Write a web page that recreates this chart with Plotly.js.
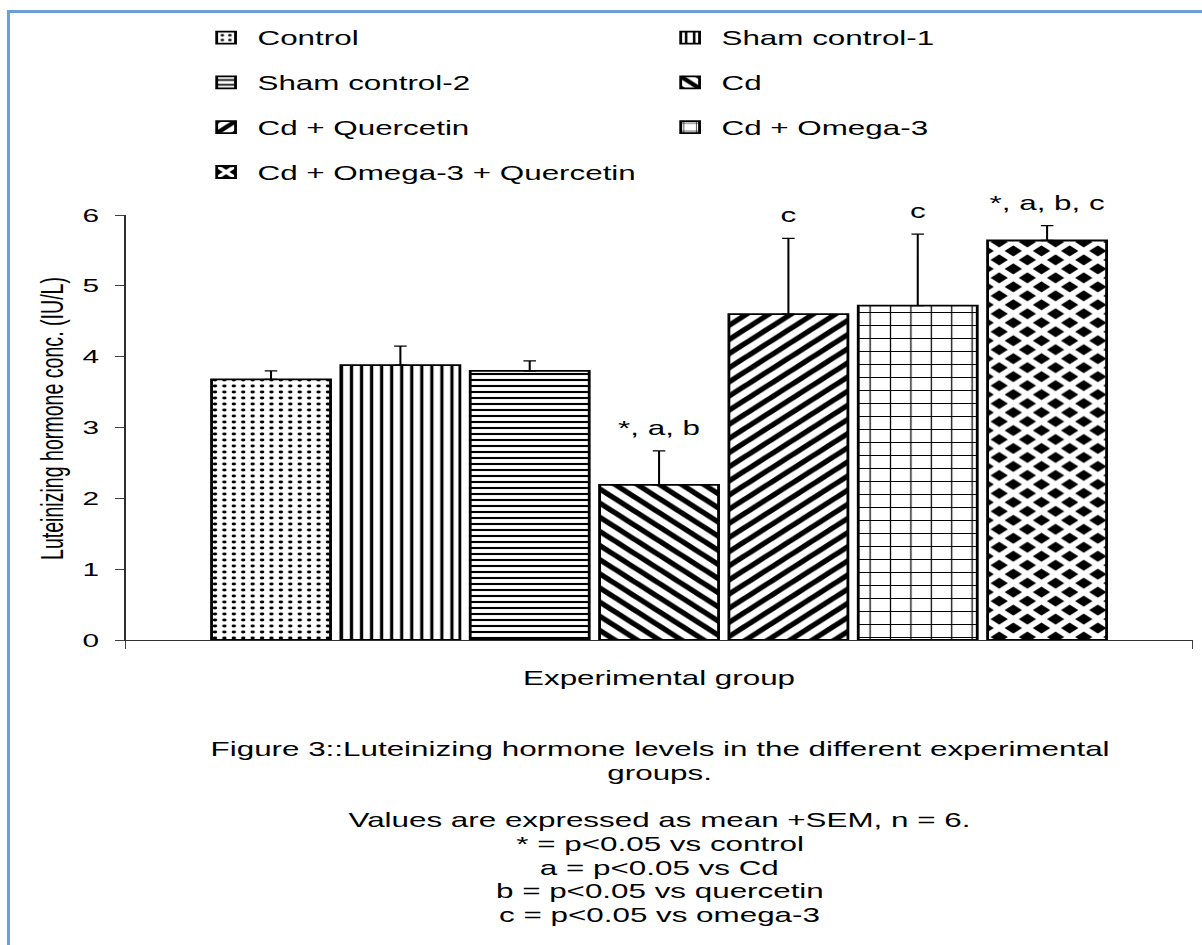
<!DOCTYPE html>
<html>
<head>
<meta charset="utf-8">
<script src="https://cdn.plot.ly/plotly-3.0.1.min.js"></script>
<style>
  html, body { margin: 0; padding: 0; background: #ffffff; overflow: hidden; }
  #wrap { position: absolute; left: 0; top: 0; width: 766px; height: 945px;
          transform: scaleX(1.5692); transform-origin: 0 0; }
  #chart { width: 766px; height: 945px; }
  #frame { position: absolute; left: 7px; top: 10px; width: 1200px; height: 940px;
           border-top: 3px solid #6a9fd8; border-left: 3px solid #6a9fd8;
           pointer-events: none; z-index: 10; }
</style>
</head>
<body>
<div id="wrap"><div id="chart"></div></div>
<div id="frame"></div>
<script>
// ---- data ----
const groups = ["Control", "Sham control-1", "Sham control-2", "Cd",
                "Cd + Quercetin", "Cd + Omega-3", "Cd + Omega-3 + Quercetin"];
const means = [3.68, 3.88, 3.80, 2.19, 4.60, 4.72, 5.64];
const sems  = [0.12, 0.27, 0.14, 0.48, 1.07, 1.01, 0.21];
const sigLabels = ["", "", "", "*, a, b", "c", "c", "*, a, b, c"];
const xCategory = ["Experimental group"];
const yTicks = [0, 1, 2, 3, 4, 5, 6];
const captionLines = [
  "Figure 3::Luteinizing hormone levels in the different experimental",
  "groups.",
  "",
  "Values are expressed as mean +SEM, n = 6.",
  "* = p<0.05 vs control",
  "a = p<0.05 vs Cd",
  "b = p<0.05 vs quercetin",
  "c = p<0.05 vs omega-3"
];
const yTitle = "Luteinizing hormone conc. (IU/L)";

// ---- styles ----
const FONT = "Liberation Sans, Arial, Helvetica, sans-serif";
const patterns = [
  {shape: ".", size: 6, solidity: 0.18, fgcolor: "#000", bgcolor: "#fff"},
  {shape: "|", size: 6.4, solidity: 0.32, fgcolor: "#000", bgcolor: "#fff"},
  {shape: "-", size: 6, solidity: 0.35, fgcolor: "#000", bgcolor: "#fff"},
  {shape: "\\", size: 10, solidity: 0.45, fgcolor: "#000", bgcolor: "#fff"},
  {shape: "/", size: 10, solidity: 0.45, fgcolor: "#000", bgcolor: "#fff"},
  {shape: "+", size: 13, solidity: 0.12, fgcolor: "#000", bgcolor: "#fff"},
  {shape: "x", size: 12.7, solidity: 0.62, fgcolor: "#fff", bgcolor: "#000"}
];
const legendOf = ["legend", "legend2", "legend", "legend2", "legend", "legend2", "legend"];

const traces = [];
groups.forEach((g, i) => {
  traces.push({
    type: "bar",
    name: g,
    x: xCategory,
    y: [means[i]],
    offsetgroup: "g" + i,
    legend: legendOf[i],
    legendgroup: "lg" + i,
    marker: {color: "#fff", pattern: patterns[i], line: {color: "#000", width: 1.8}},
    error_y: {type: "data", symmetric: false, array: [sems[i]], arrayminus: [0],
              color: "#000", thickness: 1.3, width: 4},
    hoverinfo: "skip"
  });
});
groups.forEach((g, i) => {
  traces.push({
    type: "scatter",
    mode: "markers+text",
    x: xCategory,
    y: [means[i] + sems[i]],
    text: [sigLabels[i]],
    textposition: "top center",
    textfont: {family: FONT, size: 20, color: "#000"},
    marker: {size: 16, color: "rgba(0,0,0,0)", line: {width: 0}},
    offsetgroup: "g" + i,
    showlegend: false,
    cliponaxis: false,
    hoverinfo: "skip"
  });
});

const Y0 = 640, PLOT_H = 425, PLOT_L = 80.3, PLOT_W = 680;
const annotations = [];
captionLines.forEach((t, k) => {
  if (!t) return;
  const yc = 749 + k * 23.7;
  annotations.push({
    xref: "paper", yref: "paper", x: 0.5, y: (Y0 - yc) / PLOT_H,
    xanchor: "center", yanchor: "middle", showarrow: false,
    text: t, font: {family: FONT, size: 20, color: "#000"}
  });
});
annotations.push({
  xref: "paper", yref: "paper", x: (32.8 - PLOT_L) / PLOT_W, y: 0.521,
  xanchor: "center", yanchor: "middle", showarrow: false, textangle: -90,
  text: yTitle, font: {family: FONT, size: 19.6, color: "#000"}
});

const legendBase = {
  orientation: "v", xref: "paper", yref: "paper", xanchor: "left", yanchor: "top",
  y: (Y0 - 18.1) / PLOT_H, font: {family: FONT, size: 20, color: "#000"},
  tracegroupgap: 15.8, traceorder: "grouped", bgcolor: "rgba(0,0,0,0)", borderwidth: 0
};

const layout = {
  width: 766, height: 945,
  margin: {l: PLOT_L, r: 5.7, t: 215, b: 305, autoexpand: false},
  paper_bgcolor: "#fff", plot_bgcolor: "#fff",
  font: {family: FONT, size: 20, color: "#000"},
  barmode: "group", bargap: 0.1515, bargroupgap: 0.08,
  scattermode: "group", scattergap: 0.1515,
  showlegend: true,
  legend: Object.assign({}, legendBase, {x: (124.4 - PLOT_L) / PLOT_W}),
  legend2: Object.assign({}, legendBase, {x: (420.1 - PLOT_L) / PLOT_W}),
  xaxis: {
    type: "category", showline: true, linecolor: "#303030", linewidth: 1,
    ticks: "outside", tickson: "boundaries", ticklen: 8, tickcolor: "#404040", tickwidth: 1,
    showticklabels: false, showgrid: false, zeroline: false,
    title: {text: "Experimental group", font: {family: FONT, size: 20, color: "#000"}, standoff: 31},
    automargin: false
  },
  yaxis: {
    range: [0, 6], tickmode: "array", tickvals: yTicks, ticktext: yTicks.map(String),
    showline: true, linecolor: "#303030", linewidth: 1,
    ticks: "outside", ticklen: 6, tickcolor: "#404040", tickwidth: 1,
    ticklabelstandoff: 6,
    tickfont: {family: FONT, size: 19, color: "#000"},
    showgrid: false, zeroline: false, automargin: false
  },
  annotations: annotations
};

Plotly.newPlot("chart", traces, layout, {displayModeBar: false, staticPlot: true});
</script>
</body>
</html>
